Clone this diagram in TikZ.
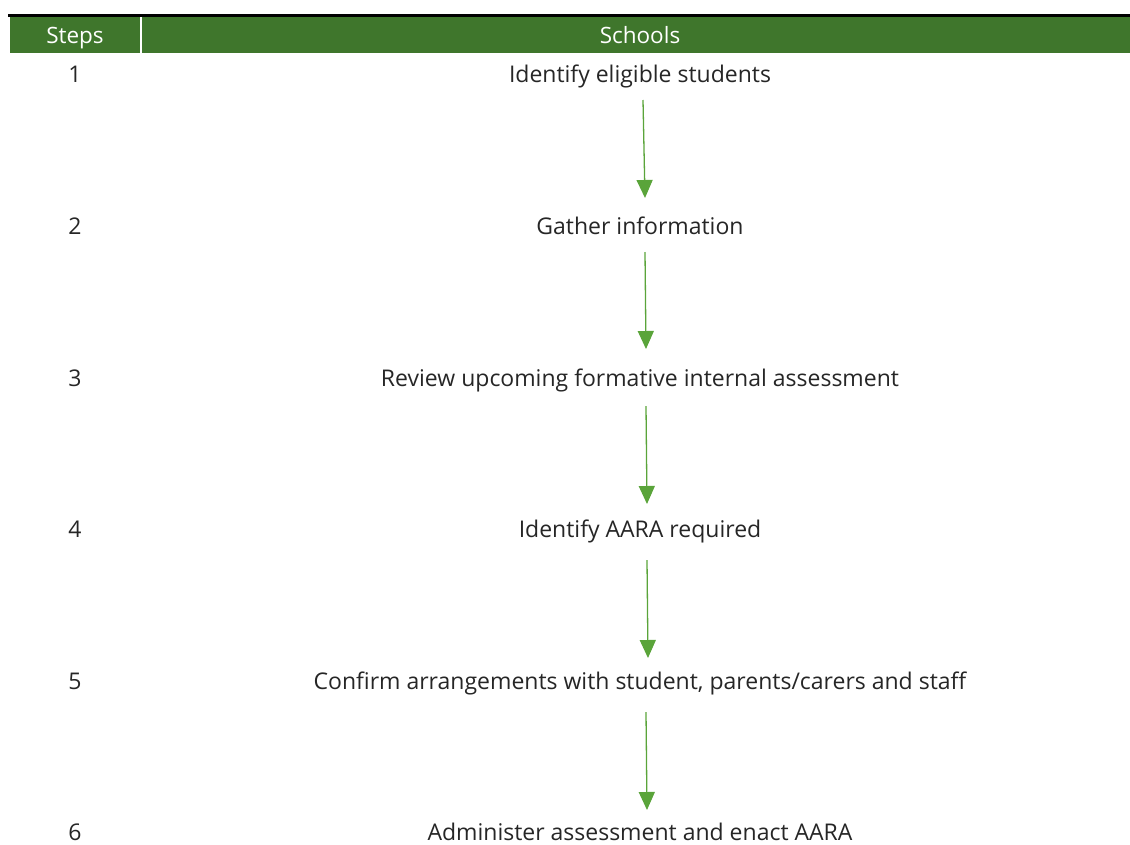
\documentclass[tikz,border=0pt]{standalone}
\usepackage{fontspec}
\setmainfont{Open Sans}
\usetikzlibrary{arrows.meta}
\definecolor{hdrgreen}{HTML}{3F762C}
\definecolor{arrgreen}{HTML}{5AA43A}
\definecolor{txtgray}{HTML}{262626}
\tikzset{
  hdr/.style={font=\fontsize{22.5}{26}\selectfont, text=white, anchor=base, inner sep=0pt},
  stepnum/.style={font=\fontsize{23}{26}\selectfont, text=txtgray, anchor=base, inner sep=0pt},
  stepbox/.style={font=\fontsize{23}{26}\selectfont, text=txtgray, anchor=base, inner sep=0pt},
  flow/.style={draw=arrgreen, line width=1.3pt, -{Triangle[length=18pt,width=16pt]}}
}
\begin{document}
\begin{tikzpicture}[x=1pt,y=-1pt]
\useasboundingbox (0,0) rectangle (1130,844);
% header
\fill[hdrgreen] (10,17) rectangle (1130,53);
\draw[black, line width=2.2pt] (8,15.5) -- (1130,15.5);
\draw[white, line width=2pt] (141,17) -- (141,53);
\node[hdr] (hsteps) at (75,43) {Steps};
\node[hdr] (hschools) at (640,43) {Schools};
% step numbers
\node[stepnum] (n1) at (75,82) {1};
\node[stepnum] (n2) at (75,234) {2};
\node[stepnum] (n3) at (75,386) {3};
\node[stepnum] (n4) at (75,537) {4};
\node[stepnum] (n5) at (75,689) {5};
\node[stepnum, text depth=0pt] (n6) at (75,840) {6};
% steps
\node[stepbox] (s1) at (640,82) {Identify eligible students};
\node[stepbox] (s2) at (640,234) {Gather information};
\node[stepbox] (s3) at (640,386) {Review upcoming formative internal assessment};
\node[stepbox] (s4) at (640,537) {Identify AARA required};
\node[stepbox] (s5) at (640,689) {Confirm arrangements with student, parents/carers and staff};
\node[stepbox, text depth=0pt] (s6) at (640,840) {Administer assessment and enact AARA};
% arrow ends
\coordinate (a1s) at (643,100); \coordinate (a1e) at (645,198);
\coordinate (a2s) at (645,252); \coordinate (a2e) at (646,349);
\coordinate (a3s) at (646,406); \coordinate (a3e) at (647,504);
\coordinate (a4s) at (647,560); \coordinate (a4e) at (648,658);
\coordinate (a5s) at (646,712); \coordinate (a5e) at (647,810);
\draw[flow] (a1s) -- (a1e);
\draw[flow] (a2s) -- (a2e);
\draw[flow] (a3s) -- (a3e);
\draw[flow] (a4s) -- (a4e);
\draw[flow] (a5s) -- (a5e);
\end{tikzpicture}
\end{document}
